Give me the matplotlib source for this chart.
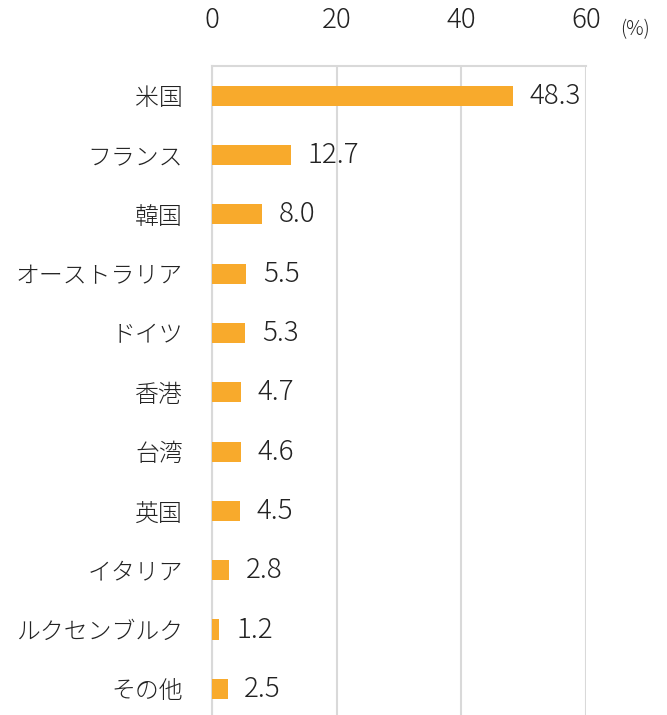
import matplotlib.pyplot as plt
import numpy as np

plt.rcParams['font.family'] = ['Noto Sans CJK JP', 'DejaVu Sans']

countries = ["米国", "フランス", "韓国", "オーストラリア", "ドイツ", "香港",
             "台湾", "英国", "イタリア", "ルクセンブルク", "その他"]
shares = [48.3, 12.7, 8.0, 5.5, 5.3, 4.7, 4.6, 4.5, 2.8, 1.2, 2.5]
xticks = [0, 20, 40, 60]

fig = plt.figure(figsize=(6.67, 7.15), dpi=100)
ax = fig.add_axes([212/667, 0, (586-212)/667, 1 - 66/715])

y = np.arange(len(countries))
ax.barh(y, shares, height=0.34, color='#F8AA2C', zorder=3)
for yi, v in zip(y, shares):
    ax.annotate(f"{v:.1f}", (v, yi), xytext=(12, 0), textcoords='offset points',
                va='center', ha='left', fontsize=20, color='#222222', fontweight='light')

ax.set_xlim(0, 60)
ax.set_ylim(10.44, -0.5)
ax.set_xticks(xticks)
ax.set_xticklabels([str(t) for t in xticks])
ax.set_yticks(y)
ax.set_yticklabels(countries)
ax.xaxis.tick_top()
ax.tick_params(axis='x', length=0, pad=23, labelsize=20, labelcolor='#222222')
ax.tick_params(axis='y', length=0, pad=21, labelsize=17.2, labelcolor='#222222')
for lab in ax.get_xticklabels() + ax.get_yticklabels():
    lab.set_fontweight('light')
ax.grid(axis='x', color='#D9D9D9', linewidth=1.5, zorder=0)
for s in ['left', 'top']:
    ax.spines[s].set_color('#D9D9D9')
    ax.spines[s].set_linewidth(1.5)
for s in ['right', 'bottom']:
    ax.spines[s].set_visible(False)

fig.text(635/667, 1 - 30/715, "(%)", ha='center', va='center', fontsize=14,
         color='#222222', fontweight='light')

fig.savefig("out.png", dpi=100)
